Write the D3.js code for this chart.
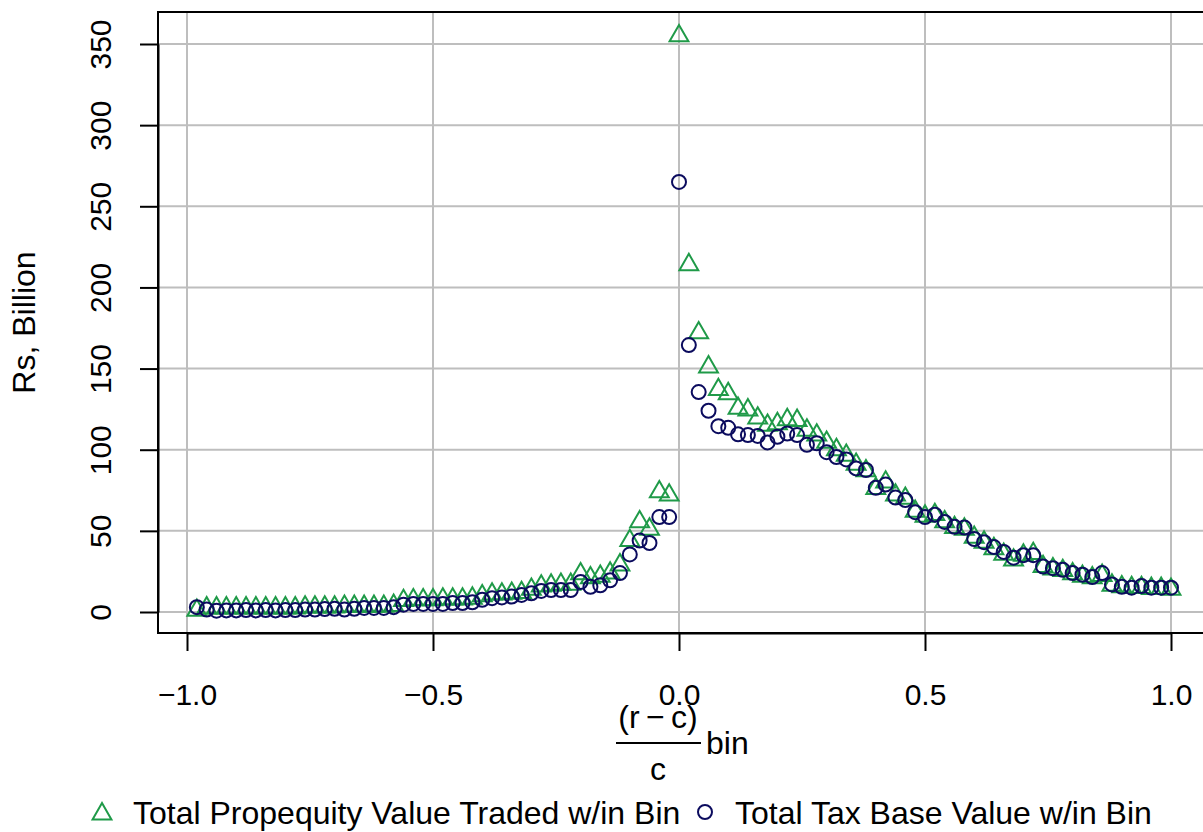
<!DOCTYPE html>
<html>
<head>
<meta charset="utf-8">
<script src="https://cdn.jsdelivr.net/npm/d3@7/dist/d3.min.js"></script>
<style>
  body { margin: 0; background: #fff; }
  text { font-family: "Liberation Sans", Arial, Helvetica, sans-serif; fill: #000; }
</style>
</head>
<body>
<svg id="chart"></svg>
<script>
// bin centres, (r - c) / c
const bins = [
  -0.98, -0.96, -0.94, -0.92, -0.90, -0.88, -0.86, -0.84, -0.82, -0.80,
  -0.78, -0.76, -0.74, -0.72, -0.70, -0.68, -0.66, -0.64, -0.62, -0.60,
  -0.58, -0.56, -0.54, -0.52, -0.50, -0.48, -0.46, -0.44, -0.42, -0.40,
  -0.38, -0.36, -0.34, -0.32, -0.30, -0.28, -0.26, -0.24, -0.22, -0.20,
  -0.18, -0.16, -0.14, -0.12, -0.10, -0.08, -0.06, -0.04, -0.02, 0.00,
  0.02, 0.04, 0.06, 0.08, 0.10, 0.12, 0.14, 0.16, 0.18, 0.20,
  0.22, 0.24, 0.26, 0.28, 0.30, 0.32, 0.34, 0.36, 0.38, 0.40,
  0.42, 0.44, 0.46, 0.48, 0.50, 0.52, 0.54, 0.56, 0.58, 0.60,
  0.62, 0.64, 0.66, 0.68, 0.70, 0.72, 0.74, 0.76, 0.78, 0.80,
  0.82, 0.84, 0.86, 0.88, 0.90, 0.92, 0.94, 0.96, 0.98, 1.00
];

// Rs billion, total propequity value traded w/in bin
const tradedValue = [
  1, 2.5, 2.5, 2.5, 2.5, 2.5, 2.5, 2.5, 2.5, 2.5,
  2.5, 3, 3, 3, 3, 3.5, 3.5, 3.5, 3.5, 3.5,
  4, 7, 7.5, 7.5, 7.5, 8, 8, 8, 8.5, 10,
  11, 11, 11.5, 12, 14, 16, 16.5, 17, 17, 23.5,
  21, 22, 24, 29, 44, 55.5, 51, 74, 72, 355,
  214, 172, 151, 137, 134.5, 125.5, 124.5, 119.5, 115, 116,
  118.5, 118, 112, 109, 104.5, 100, 96.5, 91, 87, 76,
  80, 72, 70, 62, 59, 60, 55.5, 52, 51, 46,
  43, 39, 35.5, 32, 35, 36, 28, 26.5, 25.5, 23.5,
  22, 21, 22.5, 16.5, 15.5, 15, 15, 14.5, 14.5, 14
];

// Rs billion, total tax base value w/in bin
const taxBaseValue = [
  3, 1.5, 0.8, 1, 1, 1.2, 1, 1.2, 1, 1.2,
  1.2, 1.5, 1.5, 1.8, 2, 1.5, 2, 2.5, 2.5, 2.5,
  3, 4.5, 5, 5, 5, 5, 5.5, 5.5, 6, 7.5,
  8.5, 9, 9.5, 10.5, 11.5, 13, 13.5, 13.5, 13.5, 18.5,
  15.5, 16.5, 19.5, 24, 35.5, 44, 42.5, 58.5, 58.5, 265,
  164.5, 135.5, 124, 114.5, 113.5, 109.5, 109, 108.5, 104.5, 108,
  110, 109, 103, 104, 98.5, 95.5, 94, 88.5, 87.5, 76.5,
  78.5, 70.5, 69, 61.5, 58.5, 60, 55.5, 52.5, 52, 45,
  43, 40, 37, 33.5, 35, 35, 28, 27, 26, 24,
  23, 21.5, 24, 17, 15.5, 15, 16, 15, 15, 15
];

const xTicks = [-1.0, -0.5, 0.0, 0.5, 1.0];
const xTickLabels = ["\u22121.0", "\u22120.5", "0.0", "0.5", "1.0"];
const yTicks = [0, 50, 100, 150, 200, 250, 300, 350];

const seriesNames = ["Total Propequity Value Traded w/in Bin", "Total Tax Base Value w/in Bin"];
const seriesColors = ["#1f9a48", "#0b0b5e"];

const width = 1203, height = 832;
const plot = { left: 158, top: 12, bottom: 633, right: 1260 };
const tickFont = 30, labelFont = 32;
const markerR = 7;

const svg = d3.select("#chart")
    .attr("width", width)
    .attr("height", height);

const xScale = d3.scaleLinear().domain([-1, 1]).range([187, 1171]);
const yScale = d3.scaleLinear().domain([0, 350]).range([612, 44]);

// R style pch = 2 triangle (centre of the circumscribed point)
function triPath(r) {
    const a = 1.5551 * r, b = 0.7776 * r, c = 1.3468 * r;
    return `M0,${-a}L${c},${b}L${-c},${b}Z`;
}

// grid
const grid = svg.append("g").attr("class", "grid")
    .attr("stroke", "#bebebe")
    .attr("stroke-width", 2);

grid.selectAll(".gx").data(xTicks).enter().append("line")
    .attr("x1", d => xScale(d)).attr("x2", d => xScale(d))
    .attr("y1", plot.top).attr("y2", plot.bottom);

grid.selectAll(".gy").data(yTicks).enter().append("line")
    .attr("x1", plot.left).attr("x2", width)
    .attr("y1", d => yScale(d)).attr("y2", d => yScale(d));

// points: triangles then circles
const data = bins.map((b, i) => ({ bin: b, traded: tradedValue[i], tax: taxBaseValue[i] }));

svg.append("g").selectAll("path").data(data).enter().append("path")
    .attr("d", triPath(markerR))
    .attr("transform", d => `translate(${xScale(d.bin)},${yScale(d.traded)})`)
    .attr("fill", "none")
    .attr("stroke", seriesColors[0])
    .attr("stroke-width", 2);

svg.append("g").selectAll("circle").data(data).enter().append("circle")
    .attr("cx", d => xScale(d.bin))
    .attr("cy", d => yScale(d.tax))
    .attr("r", markerR)
    .attr("fill", "none")
    .attr("stroke", seriesColors[1])
    .attr("stroke-width", 2);

// box
svg.append("rect")
    .attr("x", plot.left).attr("y", plot.top)
    .attr("width", plot.right - plot.left)
    .attr("height", plot.bottom - plot.top)
    .attr("fill", "none")
    .attr("stroke", "#000")
    .attr("stroke-width", 2);

// x axis
const xAxis = svg.append("g")
    .attr("transform", `translate(0,${plot.bottom})`)
    .call(d3.axisBottom(xScale).tickValues(xTicks).tickSize(18).tickSizeOuter(0)
        .tickFormat((d, i) => xTickLabels[i]));
xAxis.select(".domain").attr("stroke-width", 2);
xAxis.selectAll(".tick line").attr("stroke-width", 2);
xAxis.selectAll(".tick text")
    .attr("y", 705 - plot.bottom).attr("dy", null)
    .attr("font-size", tickFont)
    .attr("font-family", null);

// y axis
const yAxis = svg.append("g")
    .attr("transform", `translate(${plot.left},0)`)
    .call(d3.axisLeft(yScale).tickValues(yTicks).tickSize(18).tickSizeOuter(0));
yAxis.select(".domain").attr("stroke-width", 2);
yAxis.selectAll(".tick line").attr("stroke-width", 2);
yAxis.selectAll(".tick text")
    .attr("x", null).attr("dy", null)
    .attr("font-size", tickFont)
    .attr("font-family", null)
    .attr("text-anchor", "middle")
    .attr("transform", `translate(${111 - plot.left},0) rotate(-90)`);

// axis titles
svg.append("text")
    .attr("transform", `translate(35,${(plot.top + plot.bottom) / 2}) rotate(-90)`)
    .attr("text-anchor", "middle")
    .attr("font-size", labelFont)
    .text("Rs, Billion");

const xlab = svg.append("g").attr("class", "xlab");
xlab.append("text")
    .attr("x", 658).attr("y", 728)
    .attr("text-anchor", "middle")
    .attr("font-size", labelFont)
    .text("(r\u2009\u2212\u2009c)");
xlab.append("line")
    .attr("x1", 616).attr("x2", 701)
    .attr("y1", 743).attr("y2", 743)
    .attr("stroke", "#000").attr("stroke-width", 2);
xlab.append("text")
    .attr("x", 658).attr("y", 780)
    .attr("text-anchor", "middle")
    .attr("font-size", labelFont)
    .text("c");
xlab.append("text")
    .attr("x", 706).attr("y", 754)
    .attr("font-size", labelFont)
    .text("bin");

// legend
const legend = svg.append("g").attr("class", "legend");
legend.append("path")
    .attr("d", triPath(markerR))
    .attr("transform", "translate(102,814)")
    .attr("fill", "none").attr("stroke", seriesColors[0]).attr("stroke-width", 2);
legend.append("text")
    .attr("x", 133).attr("y", 824)
    .attr("font-size", labelFont)
    .text(seriesNames[0]);
legend.append("circle")
    .attr("cx", 705).attr("cy", 812).attr("r", markerR)
    .attr("fill", "none").attr("stroke", seriesColors[1]).attr("stroke-width", 2);
legend.append("text")
    .attr("x", 735).attr("y", 824)
    .attr("font-size", labelFont)
    .text(seriesNames[1]);
</script>
</body>
</html>
